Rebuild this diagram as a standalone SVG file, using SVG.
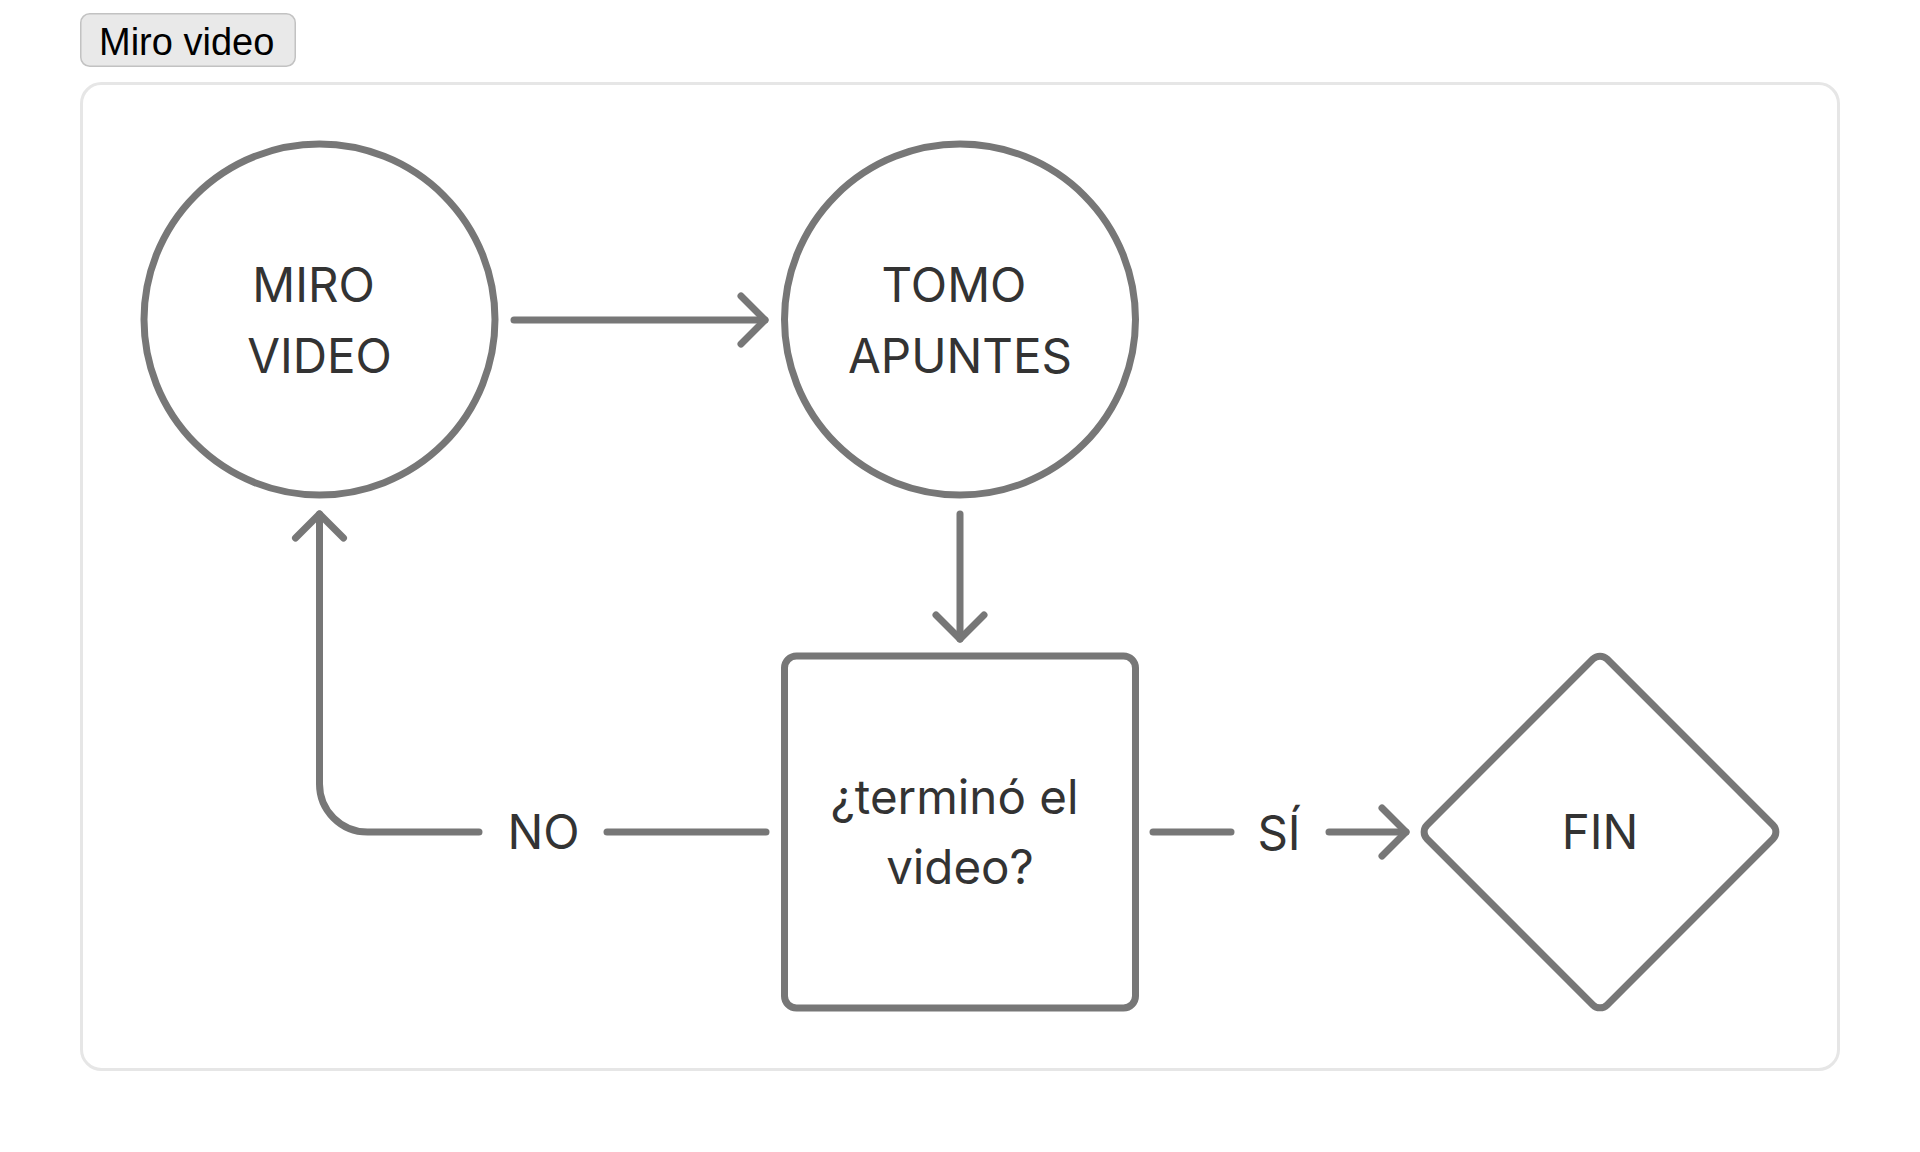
<svg xmlns="http://www.w3.org/2000/svg" width="1920" height="1152" viewBox="0 0 1920 1152">
  <style>
    .shape { fill: #ffffff; stroke: #777777; stroke-width: 7; }
    .conn { fill: none; stroke: #777777; stroke-width: 7; stroke-linecap: round; stroke-linejoin: round; }
    .lbl { font-family: Inter, "Noto Sans", "Liberation Sans", sans-serif; font-size: 47.5px; fill: #333333; text-anchor: middle; }
    .btn { fill: #e9e9e9; stroke: #c2c2c2; stroke-width: 1.5; }
    .btntxt { font-family: "Liberation Sans", Arial, sans-serif; font-size: 38px; fill: #000000; }
    .frame { fill: #ffffff; stroke: #e6e6e6; stroke-width: 3; }
  </style>
  <defs>
    <marker id="chev" markerUnits="userSpaceOnUse" orient="auto" markerWidth="60" markerHeight="60" viewBox="-30 -30 60 60" refX="0" refY="0" overflow="visible">
      <path d="M -24 -24 L 0 0 L -24 24" fill="none" stroke="#777777" stroke-width="7" stroke-linecap="round" stroke-linejoin="round"/>
    </marker>
  </defs>
  <rect width="1920" height="1152" fill="#ffffff"/>
  <g id="title-button">
    <rect class="btn" x="80.75" y="13.75" width="214.5" height="52.5" rx="9"/>
    <text class="btntxt" x="99" y="55">Miro video</text>
  </g>
  <g id="frame">
    <rect class="frame" x="81.5" y="83.5" width="1757" height="986" rx="20"/>
  </g>
  <g id="connectors">
    <path class="conn" d="M 514 320 L 765 320" marker-end="url(#chev)"/>
    <path class="conn" d="M 960 514 L 960 639" marker-end="url(#chev)"/>
    <path class="conn" d="M 766 832 L 607 832"/>
    <path class="conn" d="M 479 832 L 367.5 832 A 48 48 0 0 1 319.5 784 L 319.5 514" marker-end="url(#chev)"/>
    <text class="lbl" x="543.5" y="849">NO</text>
    <path class="conn" d="M 1153 832 L 1231 832"/>
    <path class="conn" d="M 1329 832 L 1406 832" marker-end="url(#chev)"/>
    <text class="lbl" x="1279" y="850">SÍ</text>
  </g>
  <g id="node-miro-video">
    <circle class="shape" cx="319.5" cy="319.5" r="175.5"/>
    <text class="lbl" x="313.5" y="302">MIRO</text>
    <text class="lbl" x="319.5" y="373">VIDEO</text>
  </g>
  <g id="node-tomo-apuntes">
    <circle class="shape" cx="960" cy="319.5" r="175.5"/>
    <text class="lbl" x="954" y="302">TOMO</text>
    <text class="lbl" x="960" y="373">APUNTES</text>
  </g>
  <g id="node-termino">
    <rect class="shape" x="784.5" y="656" width="351" height="352" rx="12"/>
    <text class="lbl" x="954.5" y="814">¿terminó el</text>
    <text class="lbl" x="960" y="884">video?</text>
  </g>
  <g id="node-fin">
    <path class="shape" d="M 1607.07 659.07 L 1772.93 824.93 A 10 10 0 0 1 1772.93 839.07 L 1607.07 1004.93 A 10 10 0 0 1 1592.93 1004.93 L 1427.07 839.07 A 10 10 0 0 1 1427.07 824.93 L 1592.93 659.07 A 10 10 0 0 1 1607.07 659.07 Z"/>
    <text class="lbl" x="1600" y="849">FIN</text>
  </g>
</svg>
